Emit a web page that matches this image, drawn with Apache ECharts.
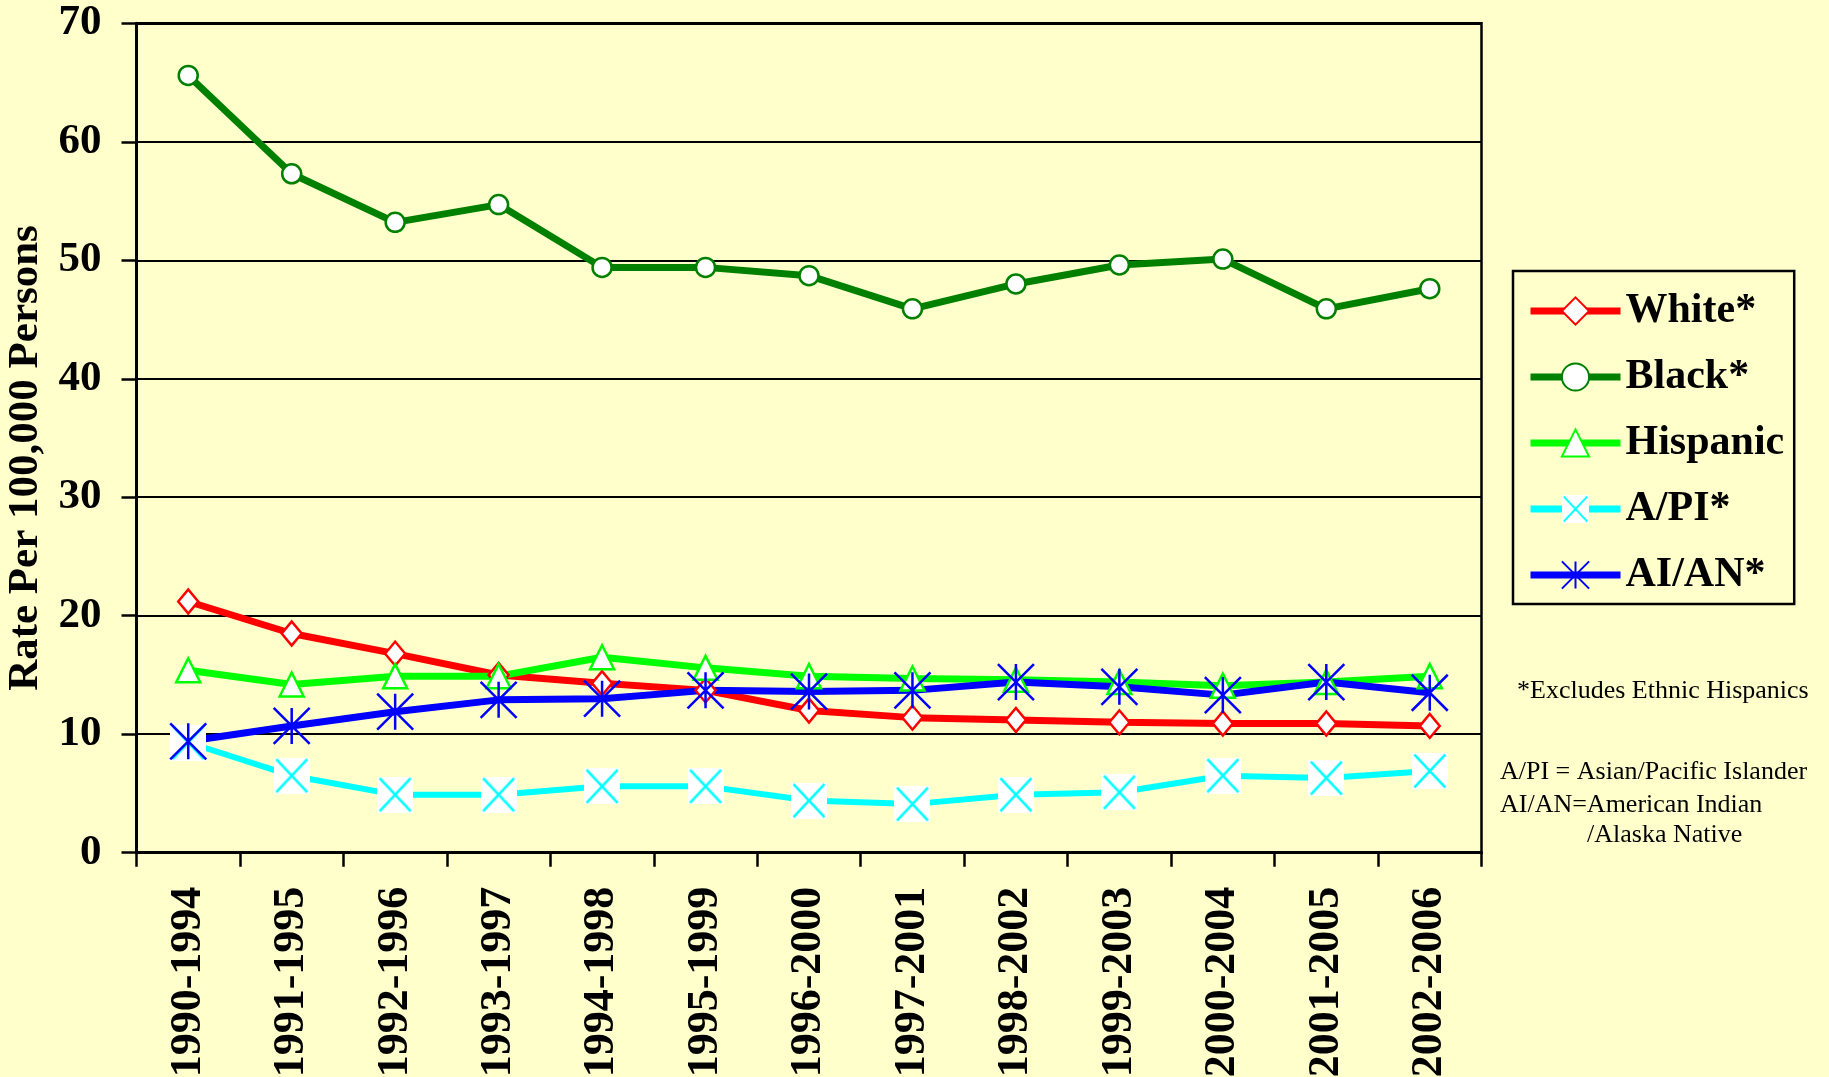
<!DOCTYPE html>
<html><head><meta charset="utf-8">
<script src="https://cdn.jsdelivr.net/npm/echarts@6/dist/echarts.min.js"></script>
<style>html,body{margin:0;padding:0;background:#FFFFCC;} #c{width:1829px;height:1077px;}</style>
</head><body><div id="c"></div>
<script>
const categories = ['1990-1994','1991-1995','1992-1996','1993-1997','1994-1998','1995-1999','1996-2000','1997-2001','1998-2002','1999-2003','2000-2004','2001-2005','2002-2006'];
const seriesNames = ['White*','Black*','Hispanic','A/PI*','AI/AN*'];
const whiteVals    = [21.2,18.5,16.8,15.0,14.3,13.7,12.0,11.4,11.2,11.0,10.9,10.9,10.7];
const blackVals    = [65.6,57.3,53.2,54.7,49.4,49.4,48.7,45.9,48.0,49.6,50.1,45.9,47.6];
const hispanicVals = [15.4,14.2,14.9,14.9,16.5,15.6,14.9,14.7,14.6,14.4,14.1,14.4,14.9];
const apiVals      = [9.3,6.5,4.9,4.9,5.6,5.6,4.4,4.1,4.9,5.1,6.5,6.3,6.9];
const aianVals     = [9.4,10.7,11.9,12.9,13.0,13.7,13.6,13.7,14.4,14.0,13.3,14.4,13.5];
const yTicks = {min:0, max:70, interval:10};
const notes = ['*Excludes Ethnic Hispanics','A/PI = Asian/Pacific Islander','AI/AN=American Indian','/Alaska Native'];

const SERIF = '"Liberation Serif","Times New Roman",serif';

function apiIcon(){
  const c=document.createElement('canvas'); c.width=72; c.height=72;
  const g=c.getContext('2d');
  g.fillStyle='#FFFFFF'; g.fillRect(0,0,72,72);
  g.strokeStyle='#00FFFF'; g.lineWidth=5;
  g.beginPath(); g.moveTo(5,3); g.lineTo(67,69); g.moveTo(67,3); g.lineTo(5,69); g.stroke();
  return 'image://'+c.toDataURL();
}
const asterisk = 'path://M0,0L10,10M10,0L0,10M5,0L5,10';

const chart = echarts.init(document.getElementById('c'), null, {renderer:'canvas'});
function mk(name, data, color, symbol, size, lw, fill){
  return {
    name, type:'line', data, symbol, symbolSize:size,
    itemStyle:{color: fill, borderColor:color, borderWidth:2.5},
    lineStyle:{color, width:lw},
    emphasis:{disabled:true}
  };
}
chart.setOption({
  animation:false,
  backgroundColor:'#FFFFCC',
  grid:{left:136.5, right:347.5, top:23.3, bottom:224.3, containLabel:false, outerBoundsMode:'none',
        show:true, borderColor:'#000', borderWidth:2.5, backgroundColor:'transparent'},
  xAxis:{
    type:'category', data:categories, boundaryGap:true,
    axisLine:{lineStyle:{color:'#000', width:3}},
    axisTick:{show:true, length:14, lineStyle:{color:'#000', width:2.5}},
    axisLabel:{rotate:90, margin:34, interval:0, color:'#000', fontFamily:SERIF, fontWeight:'bold', fontSize:44}
  },
  yAxis:{
    type:'value', min:yTicks.min, max:yTicks.max, interval:yTicks.interval,
    name:'Rate Per 100,000 Persons', nameLocation:'middle', nameGap:83, nameRotate:90,
    nameTextStyle:{color:'#000', fontFamily:SERIF, fontWeight:'bold', fontSize:43, padding:[0,40,0,0]},
    axisLine:{show:true, lineStyle:{color:'#000', width:3}},
    axisTick:{show:true, length:15, lineStyle:{color:'#000', width:2.5}},
    splitLine:{show:true, lineStyle:{color:'#000', width:2}},
    axisLabel:{margin:35, color:'#000', fontFamily:SERIF, fontWeight:'bold', fontSize:43}
  },
  legend:{
    data:seriesNames, orient:'vertical', left:1513, top:271,
    padding:[19,10,8,14], borderColor:'#000', borderWidth:2.5, backgroundColor:'#FFFFCC',
    itemWidth:90, itemHeight:34, itemGap:24,
    lineStyle:{width:7},
    textStyle:{color:'#000', fontFamily:SERIF, fontWeight:'bold', fontSize:42, lineHeight:40}
  },
  graphic:[
    {type:'text', x:1517, y:691, style:{text:notes[0], font:'26px '+SERIF, fill:'#000', textVerticalAlign:'middle', verticalAlign:'middle'}},
    {type:'text', x:1500, y:772, style:{text:notes[1], font:'26px '+SERIF, fill:'#000', textVerticalAlign:'middle', verticalAlign:'middle'}},
    {type:'text', x:1500, y:805, style:{text:notes[2], font:'26px '+SERIF, fill:'#000', textVerticalAlign:'middle', verticalAlign:'middle'}},
    {type:'text', x:1587, y:835, style:{text:notes[3], font:'26px '+SERIF, fill:'#000', textVerticalAlign:'middle', verticalAlign:'middle'}}
  ],
  series:[
    mk(seriesNames[0], whiteVals, '#FF0000', 'diamond', [20,24], 7, '#FFFFFF'),
    mk(seriesNames[1], blackVals, '#008000', 'circle', 19, 7, '#FFFFFF'),
    mk(seriesNames[2], hispanicVals, '#00FF00', 'triangle', [24,24], 7, '#FFFFFF'),
    mk(seriesNames[3], apiVals, '#00FFFF', apiIcon(), 36, 6, '#FFFFFF'),
    mk(seriesNames[4], aianVals, '#0000FF', asterisk, 36, 7, 'rgba(0,0,0,0)')
  ]
});
</script></body></html>
